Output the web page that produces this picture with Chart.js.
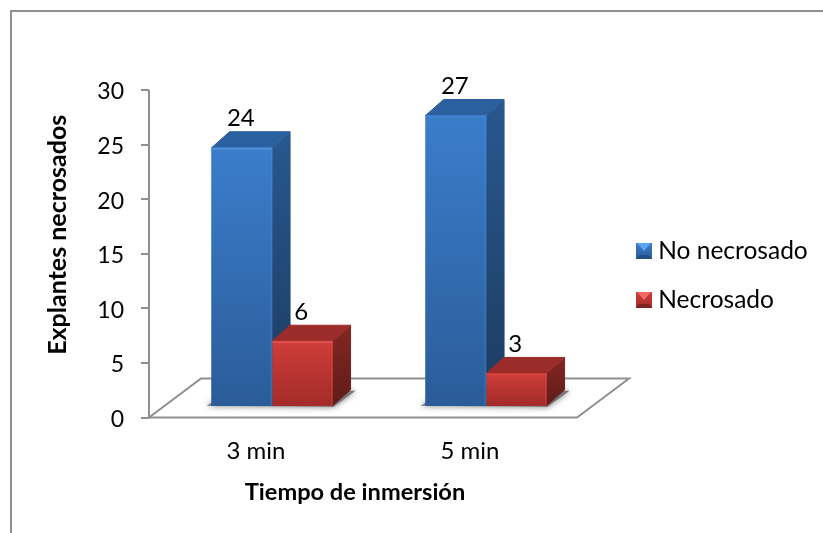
<!DOCTYPE html>
<html>
<head>
<meta charset="utf-8">
<script src="https://cdn.jsdelivr.net/npm/chart.js@4/dist/chart.umd.min.js"></script>
<style>
html, body { margin: 0; padding: 0; background: #fff; }
#wrap { position: relative; width: 823px; height: 533px; }
canvas { display: block; }
</style>
</head>
<body>
<div id="wrap"><canvas id="chart" width="823" height="533"></canvas></div>
<script>
const categories = ['3 min', '5 min'];
const seriesNames = ['No necrosado', 'Necrosado'];
const noNecrosado = [24, 27];
const necrosado = [6, 3];
const yTicks = [0, 5, 10, 15, 20, 25, 30];

const FONT = 'Lato, "Noto Sans", sans-serif';
const TEXT = '#000000';
const AXIS = '#8f8f8f';

// Oblique projection of the 3D floor and of the bar depth, in pixels.
const FLOOR_DX = 52, FLOOR_DY = 39;
const BAR_DX = 18, BAR_DY = 16;

const palette = [
  { frontTop: '#3b7dcb', frontBottom: '#2b5c99', sideTop: '#28588f', sideBottom: '#1d3b60', top: '#2b609f', edge: '#4f8fda', light: '#5aa5ef', dark: '#254f84' },
  { frontTop: '#cf3d39', frontBottom: '#a32b29', sideTop: '#832723', sideBottom: '#601c1a', top: '#9b2c2a', edge: '#dd524d', light: '#f26a66', dark: '#7c2422' }
];

function frontGradient(ctx, c) {
  const { chart } = ctx;
  const scale = chart.scales.yBars;
  const value = ctx.parsed ? ctx.parsed.y : NaN;
  const top = scale ? scale.getPixelForValue(value) : NaN;
  const base = scale ? scale.getPixelForValue(0) : NaN;
  if (!isFinite(top) || !isFinite(base)) return c.frontTop;
  const g = chart.ctx.createLinearGradient(0, top, 0, base);
  g.addColorStop(0, c.frontTop);
  g.addColorStop(1, c.frontBottom);
  return g;
}

function legendMarker(c) {
  const cv = document.createElement('canvas');
  cv.width = 16; cv.height = 16;
  const x = cv.getContext('2d');
  const g = x.createLinearGradient(0, 0, 0, 16);
  g.addColorStop(0, c.frontTop);
  g.addColorStop(1, c.frontBottom);
  x.fillStyle = g;
  x.fillRect(0, 0, 16, 16);
  x.fillStyle = c.light;
  x.beginPath();
  x.moveTo(1, 0); x.lineTo(15, 0); x.lineTo(8, 8);
  x.closePath(); x.fill();
  x.fillStyle = c.dark;
  x.beginPath();
  x.moveTo(0, 16); x.lineTo(16, 16); x.lineTo(13, 12); x.lineTo(3, 12);
  x.closePath(); x.fill();
  return cv;
}
const markers = palette.map(legendMarker);

function poly(ctx, pts, fill) {
  ctx.beginPath();
  pts.forEach((p, i) => i ? ctx.lineTo(p[0], p[1]) : ctx.moveTo(p[0], p[1]));
  ctx.closePath();
  ctx.fillStyle = fill;
  ctx.strokeStyle = fill;
  ctx.lineWidth = 1;
  ctx.lineJoin = 'round';
  ctx.fill();
  ctx.stroke();
}

const depthPlugin = {
  id: 'depth',
  afterLayout(chart) {
    // Axis titles sit off the plot centre; the scales keep their tick positions.
    const x = chart.scales.x, y = chart.scales.y;
    x.left -= 8; x.right -= 8;
    y.top -= 19; y.bottom -= 19;
    chart.legend.left = 617.5;
    chart.legend.right = 823;
    chart.legend.top = 214.25;
    chart.legend.bottom = 533;
  },
  beforeDraw(chart) {
    const { ctx } = chart;
    ctx.save();
    ctx.strokeStyle = AXIS;
    ctx.lineWidth = 2;
    ctx.beginPath();
    ctx.moveTo(11, 533); ctx.lineTo(11, 11); ctx.lineTo(823, 11);
    ctx.stroke();
    ctx.restore();
  },
  beforeDatasetsDraw(chart) {
    const { ctx, chartArea: a } = chart;
    ctx.save();
    ctx.strokeStyle = AXIS;
    ctx.lineWidth = 2;
    ctx.beginPath();
    ctx.moveTo(a.left, a.top);
    ctx.lineTo(a.left, a.bottom);
    ctx.lineTo(a.right, a.bottom);
    ctx.lineTo(a.right + FLOOR_DX, a.bottom - FLOOR_DY);
    ctx.lineTo(a.left + FLOOR_DX, a.bottom - FLOOR_DY);
    ctx.lineTo(a.left, a.bottom);
    ctx.stroke();
    // soft contact shadow of the bars on the floor
    chart.getDatasetMeta(0).data.forEach((blue, i) => {
      const red = chart.getDatasetMeta(1).data[i];
      ctx.save();
      ctx.shadowColor = 'rgba(0,0,0,0.6)';
      ctx.shadowBlur = 6;
      ctx.fillStyle = 'rgba(110,110,110,0.9)';
      ctx.beginPath();
      ctx.moveTo(blue.x - blue.width / 2 - 5, blue.base);
      ctx.lineTo(red.x + red.width / 2 + 1, blue.base + 1);
      ctx.lineTo(red.x + red.width / 2 + BAR_DX + 5, blue.base - BAR_DY + 1);
      ctx.lineTo(blue.x, blue.base - BAR_DY);
      ctx.lineTo(blue.x - blue.width / 2, blue.base - 3);
      ctx.closePath();
      ctx.fill();
      ctx.restore();
    });
    // side and top faces, back to front, so each red box sits over the blue side
    chart.data.datasets.forEach((ds, di) => {
      const c = palette[di];
      chart.getDatasetMeta(di).data.forEach(bar => {
        const l = bar.x - bar.width / 2, r = bar.x + bar.width / 2;
        const t = bar.y, b = bar.base;
        const g = ctx.createLinearGradient(0, t - BAR_DY, 0, b);
        g.addColorStop(0, c.sideTop);
        g.addColorStop(1, c.sideBottom);
        poly(ctx, [[r, t], [r + BAR_DX, t - BAR_DY], [r + BAR_DX, b - BAR_DY], [r, b]], g);
        poly(ctx, [[l, t], [l + BAR_DX, t - BAR_DY], [r + BAR_DX, t - BAR_DY], [r, t]], c.top);
      });
    });
    ctx.restore();
  },
  afterDatasetDraw(chart, args) {
    const { ctx } = chart;
    const c = palette[args.index];
    ctx.save();
    args.meta.data.forEach(bar => {
      const l = bar.x - bar.width / 2, r = bar.x + bar.width / 2;
      ctx.fillStyle = c.edge;
      ctx.fillRect(l, bar.y, bar.width, 2);
      ctx.globalAlpha = 0.3;
      ctx.fillRect(r - 1.5, bar.y, 1.5, bar.base - bar.y);
    });
    ctx.restore();
  },
  afterDatasetsDraw(chart) {
    const { ctx } = chart;
    ctx.save();
    ctx.font = '24px ' + FONT;
    ctx.fillStyle = TEXT;
    ctx.textAlign = 'center';
    ctx.textBaseline = 'middle';
    chart.data.datasets.forEach((ds, di) => {
      chart.getDatasetMeta(di).data.forEach((bar, i) => {
        ctx.fillText(String(ds.data[i].y), bar.x - 1, bar.y - 29);
      });
    });
    ctx.restore();
  }
};

const toPoints = values => values.map((y, x) => ({ x, y }));

new Chart(document.getElementById('chart'), {
  type: 'bar',
  plugins: [depthPlugin],
  data: {
    labels: categories,
    datasets: [
      { label: seriesNames[0], data: toPoints(noNecrosado), xAxisID: 'xBars', yAxisID: 'yBars',
        backgroundColor: ctx => frontGradient(ctx, palette[0]), barThickness: 60.5 },
      { label: seriesNames[1], data: toPoints(necrosado), xAxisID: 'xBars', yAxisID: 'yBars',
        backgroundColor: ctx => frontGradient(ctx, palette[1]), barThickness: 60.5 }
    ]
  },
  options: {
    responsive: false,
    animation: false,
    layout: { padding: { left: 0, top: 90, right: 246, bottom: 0 } },
    plugins: {
      tooltip: { enabled: false },
      legend: {
        position: 'chartArea',
        align: 'start',
        labels: {
          font: { family: FONT, size: 24.5 },
          color: TEXT,
          usePointStyle: true,
          boxWidth: 4,
          boxHeight: 16,
          padding: 24.5,
          generateLabels(chart) {
            const items = Chart.defaults.plugins.legend.labels.generateLabels(chart);
            items.forEach(it => { it.pointStyle = markers[it.datasetIndex]; });
            return items;
          }
        }
      }
    },
    scales: {
      x: {
        type: 'category',
        labels: categories,
        position: 'bottom',
        grid: { display: false },
        border: { display: false },
        ticks: { color: TEXT, font: { family: FONT, size: 24 }, padding: 11, maxRotation: 0 },
        title: { display: true, text: 'Tiempo de inmersión', color: TEXT, font: { family: FONT, size: 23.6, weight: 'bold' }, padding: { top: 12, bottom: 26 } },
        afterFit(s) { s.height = 115.5; }
      },
      y: {
        type: 'linear',
        position: 'left',
        min: yTicks[0],
        max: yTicks[yTicks.length - 1],
        afterBuildTicks(s) { s.ticks = yTicks.map(value => ({ value })); },
        grid: { drawOnChartArea: false, color: AXIS, lineWidth: 2, tickLength: 8 },
        border: { display: false },
        ticks: { color: TEXT, font: { family: FONT, size: 23 }, padding: 17, labelOffset: 2 },
        title: { display: true, text: 'Explantes necrosados', color: TEXT, font: { family: FONT, size: 25, weight: 'bold' }, padding: { top: 43, bottom: 0 } },
        afterFit(s) { s.width = 149; }
      },
      // Bars stand on a plane set back from the axes, so they use their own
      // projected scales: value 0 lands on the front of the bars, not the floor edge.
      xBars: { type: 'linear', display: false, offset: false, min: -0.575, max: 1.425 },
      yBars: { type: 'linear', display: false, min: -1.098, max: 29.37 }
    }
  }
});
</script>
</body>
</html>
